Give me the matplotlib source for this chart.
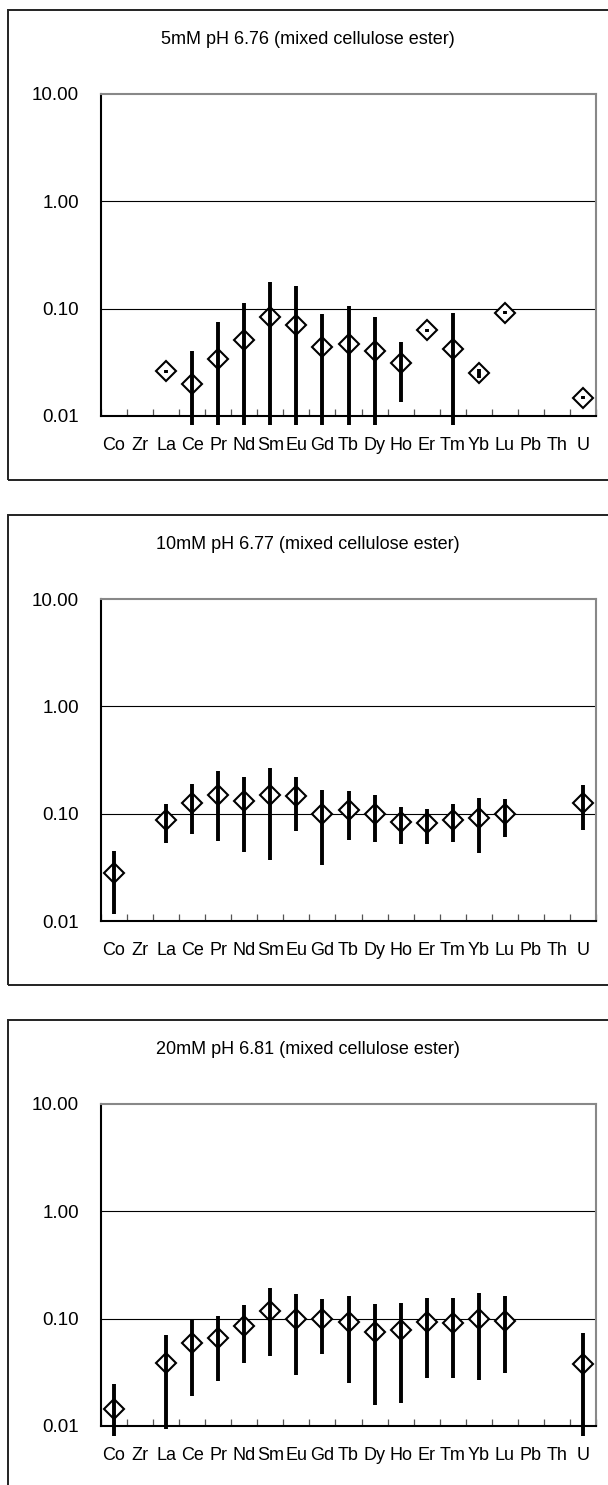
import numpy as np
import matplotlib
matplotlib.use("Agg")
import matplotlib.pyplot as plt
from matplotlib.patches import Rectangle
from matplotlib.ticker import FixedLocator, NullLocator

nan = np.nan

elements = ["Co", "Zr", "La", "Ce", "Pr", "Nd", "Sm", "Eu", "Gd", "Tb",
            "Dy", "Ho", "Er", "Tm", "Yb", "Lu", "Pb", "Th", "U"]

titles = ["5mM pH 6.76 (mixed cellulose ester)",
          "10mM pH 6.77 (mixed cellulose ester)",
          "20mM pH 6.81 (mixed cellulose ester)"]

# 5mM
val_5 = [nan, nan, 0.026, 0.020, 0.034, 0.051, 0.083, 0.070, 0.044, 0.047,
         0.040, 0.031, 0.063, 0.042, 0.025, 0.092, nan, nan, 0.0148]
hi_5 = [nan, nan, 0.0268, 0.040, 0.075, 0.113, 0.177, 0.163, 0.089, 0.105,
        0.084, 0.049, 0.065, 0.092, 0.0275, 0.095, nan, nan, 0.0152]
lo_5 = [nan, nan, 0.0252, 0.0082, 0.0082, 0.0082, 0.0082, 0.0082, 0.0082, 0.0082,
        0.0082, 0.0135, 0.061, 0.0082, 0.0228, 0.089, nan, nan, 0.0144]

# 10mM
val_10 = [0.028, nan, 0.088, 0.125, 0.150, 0.131, 0.150, 0.145, 0.100, 0.109,
          0.100, 0.084, 0.082, 0.088, 0.092, 0.100, nan, nan, 0.127]
hi_10 = [0.045, nan, 0.124, 0.187, 0.248, 0.221, 0.266, 0.218, 0.167, 0.162,
         0.148, 0.115, 0.110, 0.124, 0.140, 0.137, nan, nan, 0.183]
lo_10 = [0.0115, nan, 0.053, 0.065, 0.056, 0.044, 0.037, 0.069, 0.033, 0.057,
         0.055, 0.052, 0.052, 0.055, 0.043, 0.061, nan, nan, 0.070]

# 20mM
val_20 = [0.0143, nan, 0.039, 0.059, 0.066, 0.086, 0.119, 0.100, 0.100, 0.093,
          0.075, 0.078, 0.093, 0.091, 0.100, 0.095, nan, nan, 0.038]
hi_20 = [0.0246, nan, 0.070, 0.100, 0.107, 0.135, 0.194, 0.168, 0.151, 0.162,
         0.138, 0.141, 0.157, 0.157, 0.174, 0.161, nan, nan, 0.074]
lo_20 = [0.0081, nan, 0.0094, 0.019, 0.026, 0.039, 0.045, 0.030, 0.047, 0.025,
         0.0157, 0.0163, 0.028, 0.028, 0.027, 0.031, nan, nan, 0.0081]

panels = [(val_5, lo_5, hi_5), (val_10, lo_10, hi_10), (val_20, lo_20, hi_20)]

plt.rcParams["font.family"] = ["Liberation Sans", "DejaVu Sans"]

W, H = 608, 1485
fig = plt.figure(figsize=(W / 100, H / 100), dpi=100)


def fx(px):
    return px / W


def fy(py):
    return 1 - py / H


x = np.arange(len(elements))
step = 505

for i, (vals, lo, hi) in enumerate(panels):
    o = step * i

    # outer chart frame
    fig.patches.append(Rectangle((fx(8), fy(480 + o)), fx(610) - fx(8), fy(10 + o) - fy(480 + o),
                                 transform=fig.transFigure, fill=False,
                                 edgecolor="#222222", linewidth=1.4))
    fig.text(fx(308), fy(39 + o), titles[i], ha="center", va="center", fontsize=13)

    ax = fig.add_axes([fx(101), fy(416 + o), fx(596) - fx(101), 322 / H])
    ax.set_yscale("log")
    ax.set_ylim(0.01, 10)
    ax.set_xlim(-0.5, len(elements) - 0.5)

    for yv in [0.1, 1.0]:
        ax.axhline(yv, color="black", linewidth=0.8, zorder=1)

    v = np.array(vals, dtype=float)
    l = np.array(lo, dtype=float)
    h = np.array(hi, dtype=float)
    ax.plot(x, v, linestyle="none", marker="D", markersize=10,
            markerfacecolor="white", markeredgecolor="black",
            markeredgewidth=1.5, zorder=3, clip_on=False)
    ax.vlines(x, l, h, colors="black", linewidth=2.8, zorder=4, clip_on=False)

    ax.yaxis.set_major_locator(FixedLocator([0.01, 0.1, 1, 10]))
    ax.yaxis.set_minor_locator(NullLocator())
    ax.set_yticklabels(["0.01", "0.10", "1.00", "10.00"])
    ax.tick_params(axis="y", length=0, pad=16, labelsize=13.5)

    ax.set_xticks(x)
    ax.set_xticklabels(elements)
    ax.set_xticks(np.arange(len(elements) + 1) - 0.5, minor=True)
    ax.tick_params(axis="x", which="major", length=0, pad=15, labelsize=13)
    ax.tick_params(axis="x", which="minor", direction="in", length=5,
                   width=0.9, color="#555555")

    for side in ["top", "right"]:
        ax.spines[side].set_color("#888888")
        ax.spines[side].set_linewidth(1.5)
    for side in ["left", "bottom"]:
        ax.spines[side].set_color("black")
        ax.spines[side].set_linewidth(1.5)

fig.savefig("out.png", dpi=100)
